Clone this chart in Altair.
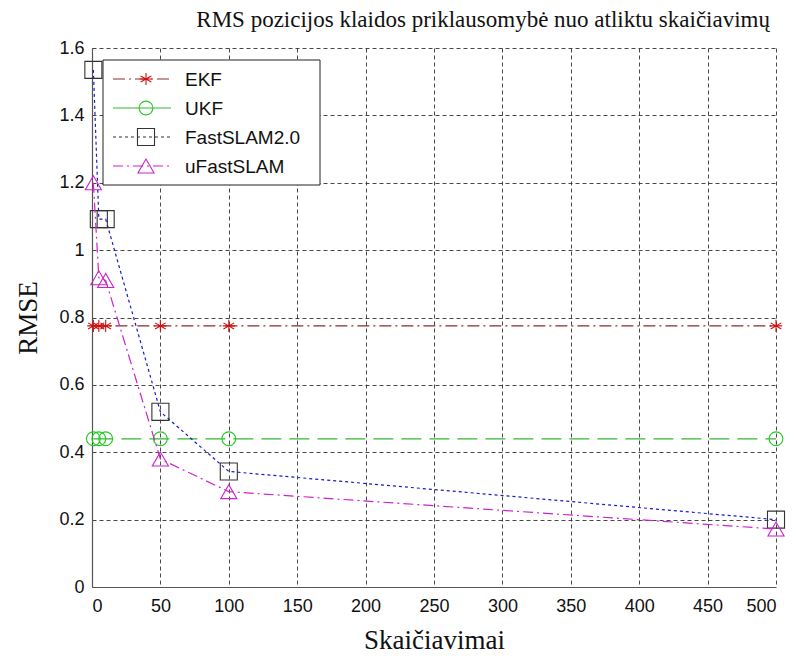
import altair as alt
import pandas as pd

# ---- data ----
iterations = [1, 5, 10, 50, 100, 500]
series_names = ["EKF", "UKF", "FastSLAM2.0", "uFastSLAM"]
ekf = [0.775, 0.775, 0.775, 0.775, 0.775, 0.775]
ukf = [0.44, 0.44, 0.44, 0.44, 0.44, 0.44]
fastslam = [1.535, 1.092, 1.092, 0.52, 0.343, 0.20]
ufastslam = [1.20, 0.918, 0.91, 0.38, 0.283, 0.172]
x_ticks = [0, 50, 100, 150, 200, 250, 300, 350, 400, 450, 500]
y_ticks = [0, 0.2, 0.4, 0.6, 0.8, 1.0, 1.2, 1.4, 1.6]
title_text = ["RMS pozicijos klaidos priklausomybė nuo atliktu skaičiavimų"]

values = {"EKF": ekf, "UKF": ukf, "FastSLAM2.0": fastslam, "uFastSLAM": ufastslam}

STAR = "M0,-1L0,1M-0.87,-0.5L0.87,0.5M-0.87,0.5L0.87,-0.5M-1,0L1,0"
styles = {
    "EKF": dict(line="#8b2a2a", dash=[12, 4, 2, 4], mcolor="#d01010", shape=STAR, size=150,
                legend_line="#8b2a2a"),
    "UKF": dict(line="#33b833", dash=[20, 8], mcolor="#22cc22", shape="circle", size=190,
                legend_line="#33b833"),
    "FastSLAM2.0": dict(line="#1a1acc", dash=[3, 3], mcolor="#333333", shape="square", size=290,
                        legend_line="#333333"),
    "uFastSLAM": dict(line="#cc22cc", dash=[10, 4, 2, 4], mcolor="#cc22cc", shape="triangle-up",
                      size=260, legend_line="#cc22cc"),
}

rows = []
for name in series_names:
    for x, y in zip(iterations, values[name]):
        rows.append({"series": name, "x": x, "y": y})
df = pd.DataFrame(rows)

W, H = 684, 539

xscale = alt.Scale(domain=[0, 500], nice=False, zero=False)
yscale = alt.Scale(domain=[0, 1.6], nice=False)

xaxis = alt.Axis(values=x_ticks, title="Skaičiavimai", grid=True, ticks=False,
                 labelPadding=10, titleFont="Liberation Serif", titleFontSize=27,
                 titleFontWeight="normal", titleY=61, titleBaseline="alphabetic")
yaxis = alt.Axis(values=y_ticks, title="RMSE", grid=True, ticks=False, format="~g",
                 labelPadding=8, titleFont="Liberation Serif", titleFontSize=27,
                 titleFontWeight="normal", titleX=-56, titleY=H / 2,
                 titleBaseline="alphabetic", titleAngle=-90)

layers = []
for name in series_names:
    st = styles[name]
    sub = df[df.series == name]
    enc_x = alt.X("x:Q", scale=xscale, axis=xaxis)
    enc_y = alt.Y("y:Q", scale=yscale, axis=yaxis)
    line = alt.Chart(sub).mark_line(color=st["line"], strokeDash=st["dash"], strokeWidth=1.2).encode(
        x=enc_x, y=enc_y)
    pts = alt.Chart(sub).mark_point(shape=st["shape"], size=st["size"], filled=False,
                                    color=st["mcolor"], strokeWidth=1.1, opacity=1).encode(
        x=enc_x, y=enc_y)
    layers += [line, pts]

# ---- legend box drawn inside the plot ----
leg_df = pd.DataFrame({"series": series_names})
box = alt.Chart(leg_df.head(1)).mark_rect(fill="white", stroke="#222222", strokeWidth=1).encode(
    x=alt.value(11), x2=alt.value(228), y=alt.value(12), y2=alt.value(137))
layers.append(box)
for i, name in enumerate(series_names):
    st = styles[name]
    yy = 31 + i * 29
    one = leg_df[leg_df.series == name]
    layers.append(alt.Chart(one).mark_rule(color=st["legend_line"], strokeDash=st["dash"] if name != "UKF" else [60, 6],
                                           strokeWidth=1.2).encode(
        x=alt.value(21), x2=alt.value(79), y=alt.value(yy)))
    layers.append(alt.Chart(one).mark_point(shape=st["shape"], size=st["size"], filled=False,
                                            color=st["mcolor"], strokeWidth=1.1, opacity=1).encode(
        x=alt.value(54), y=alt.value(yy)))
    layers.append(alt.Chart(one).mark_text(align="left", baseline="middle", font="Liberation Sans",
                                           fontSize=19, color="#111111").encode(
        x=alt.value(93), y=alt.value(yy + 1), text="series:N"))

# ---- chart title, right-aligned above the plot ----
title_df = pd.DataFrame({"t": title_text})
layers.append(alt.Chart(title_df).mark_text(align="right", baseline="alphabetic",
                                            font="Liberation Serif", fontSize=23,
                                            color="#111111").encode(
    x=alt.value(678), y=alt.value(-21), text="t:N"))

chart = alt.layer(*layers).properties(
    width=W, height=H,
    autosize=alt.AutoSizeParams(type="none"),
    padding={"left": 84, "top": 40, "right": 12, "bottom": 66},
).configure(background="white").configure_view(stroke=None).configure_axis(
    labelFont="Liberation Sans", labelFontSize=18, labelColor="#111111",
    titleColor="#111111",
    domainColor="#555555", domainWidth=1.2,
    gridColor="#333333", gridDash=[4, 3], gridWidth=0.9, gridOpacity=1,
)

chart.save("out.html", embed_options={"renderer": "svg", "actions": False})
